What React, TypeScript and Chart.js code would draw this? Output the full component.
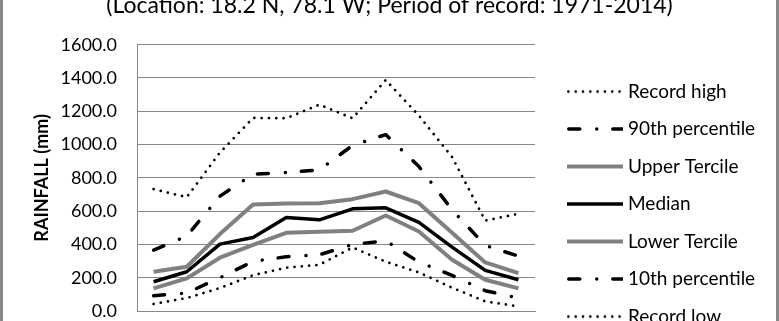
import React, { useEffect, useRef } from 'react';
import { Chart, registerables } from 'chart.js';

Chart.register(...registerables);

// ---- data (mm) ----
const months = ['Jan', 'Feb', 'Mar', 'Apr', 'May', 'Jun', 'Jul', 'Aug', 'Sep', 'Oct', 'Nov', 'Dec'];
const recordHigh = [732, 684, 952, 1160, 1158, 1240, 1158, 1388, 1174, 925, 543, 584];
const pct90 = [366, 450, 690, 822, 832, 848, 995, 1060, 868, 608, 394, 330];
const upperTercile = [236, 266, 462, 640, 646, 648, 672, 718, 648, 470, 292, 228];
const median = [176, 236, 402, 442, 562, 548, 614, 620, 532, 384, 244, 188];
const lowerTercile = [136, 196, 320, 397, 470, 476, 482, 574, 478, 308, 188, 136];
const pct10 = [92, 108, 200, 298, 326, 338, 400, 422, 294, 214, 122, 78];
const recordLow = [42, 78, 138, 215, 260, 278, 382, 296, 232, 140, 58, 28];
const yTicks = [0, 200, 400, 600, 800, 1000, 1200, 1400, 1600];
const titleText = '(Location: 18.2 N, 78.1 W; Period of record: 1971-2014)';
const yTitle = 'RAINFALL (mm)';

const FONT = 'Lato, "Open Sans", "Noto Sans", sans-serif';
const CW = 773;
const CH = 450;
const SHIFT = 30;
const RIGHT_SPACE = 241; // canvas px from plot right edge to canvas right edge

type LineStyle = { color: string; width: number; dash: number[]; cap: CanvasLineCap };

const sDotted: LineStyle = { color: '#000', width: 2.75, dash: [0.01, 7.3], cap: 'round' };
const sDashDot: LineStyle = { color: '#000', width: 3.5, dash: [11, 17, 0.01, 16], cap: 'round' };
const sGray: LineStyle = { color: '#808080', width: 4, dash: [], cap: 'butt' };
const sBlack: LineStyle = { color: '#000', width: 3.5, dash: [], cap: 'butt' };

function legendSample(s: LineStyle): HTMLCanvasElement {
  const c = document.createElement('canvas');
  c.width = 56;
  c.height = 8;
  const ctx = c.getContext('2d')!;
  ctx.strokeStyle = s.color;
  ctx.lineWidth = s.width;
  ctx.lineCap = s.cap;
  ctx.setLineDash(s.dash);
  const start = s.cap === 'round' ? s.width / 2 : 0;
  ctx.beginPath();
  ctx.moveTo(start, 4);
  ctx.lineTo(56, 4);
  ctx.stroke();
  return c;
}

export default function App() {
  const ref = useRef<HTMLCanvasElement>(null);

  useEffect(() => {
    const canvas = ref.current;
    if (!canvas) return;
    const mk = (label: string, data: number[], s: LineStyle) => ({
      label,
      data,
      borderColor: s.color,
      backgroundColor: s.color,
      borderWidth: s.width,
      borderDash: s.dash,
      borderCapStyle: s.cap,
      borderJoinStyle: 'round' as const,
      fill: false,
      tension: 0,
      pointRadius: 0,
      pointHoverRadius: 0,
      pointStyle: legendSample(s),
    });
    const chart = new Chart(canvas, {
      type: 'line',
      data: {
        labels: months,
        datasets: [
          mk('Record high', recordHigh, sDotted),
          mk('90th percentile', pct90, sDashDot),
          mk('Upper Tercile', upperTercile, sGray),
          mk('Median', median, sBlack),
          mk('Lower Tercile', lowerTercile, sGray),
          mk('10th percentile', pct10, sDashDot),
          mk('Record low', recordLow, sDotted),
        ],
      },
      options: {
        responsive: false,
        maintainAspectRatio: false,
        animation: false,
        devicePixelRatio: 1,
        layout: { padding: 0 },
        plugins: {
          tooltip: { enabled: false },
          title: {
            display: true,
            text: titleText,
            color: '#000',
            font: { family: FONT, size: 23, weight: 'normal', lineHeight: 1.2 },
            padding: { top: 21.6, bottom: 25.5 },
          },
          legend: {
            display: true,
            position: 'right',
            align: 'center',
            maxWidth: RIGHT_SPACE,
            labels: {
              color: '#000',
              font: { family: FONT, size: 19, lineHeight: '1px' },
              usePointStyle: true,
              pointStyleWidth: 47,
              padding: 36.5,
              generateLabels: (c: any) =>
                Chart.defaults.plugins.legend.labels
                  .generateLabels(c)
                  .map((it: any) => ({ ...it, text: [it.text] })),
            },
          },
        },
        scales: {
          x: {
            type: 'category',
            offset: true,
            grid: { display: false, drawTicks: false },
            border: { display: true, color: '#888', width: 1 },
            ticks: { color: '#000', font: { family: FONT, size: 18 }, padding: 20 },
            afterFit: (s: any) => {
              s.height = CH - SHIFT - 311;
            },
          },
          y: {
            type: 'linear',
            position: 'left',
            min: 0,
            max: 1600,
            afterBuildTicks: (s: any) => {
              s.ticks = yTicks.map((v) => ({ value: v }));
            },
            grid: { color: '#888', lineWidth: 1, drawTicks: false },
            border: { display: true, color: '#888', width: 1 },
            ticks: {
              color: '#000',
              font: { family: FONT, size: 18 },
              padding: 20,
              callback: (v: any) => Number(v).toFixed(1),
            },
            title: {
              display: true,
              text: yTitle,
              color: '#000',
              font: { family: FONT, size: 18, weight: 'bold', lineHeight: 1.2 },
              padding: { top: 28.2, bottom: 0 },
            },
            afterFit: (s: any) => {
              s.width = 134;
            },
          },
          y2: {
            type: 'linear',
            position: 'right',
            weight: 2000,
            display: true,
            grid: { display: false, drawTicks: false },
            border: { display: false },
            ticks: { display: false },
            afterFit: (s: any) => {
              const lw = s.chart.legend ? s.chart.legend.width : 0;
              s.width = Math.max(0, RIGHT_SPACE - lw);
            },
          },
        },
      },
    } as any);
    return () => chart.destroy();
  }, []);

  return (
    <div
      style={{
        position: 'fixed',
        left: 0,
        top: -SHIFT,
        width: 779,
        height: CH,
        boxSizing: 'border-box',
        borderLeft: '3px solid #888',
        borderRight: '3px solid #888',
        background: '#fff',
      }}
    >
      <canvas ref={ref} width={CW} height={CH} style={{ display: 'block', width: CW, height: CH }} />
    </div>
  );
}
